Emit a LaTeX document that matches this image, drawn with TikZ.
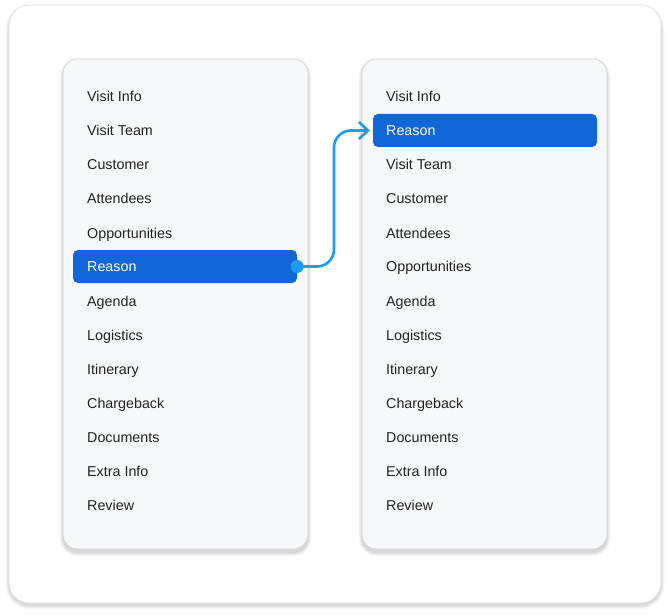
\documentclass[tikz,border=0pt]{standalone}
\usepackage{fontspec}
\setmainfont{Liberation Sans}
\usetikzlibrary{arrows.meta}
\definecolor{panelfill}{HTML}{F7F8FA}
\definecolor{panelline}{HTML}{D4D5D8}
\definecolor{cardline}{HTML}{DEDEDE}
\definecolor{hlblue}{HTML}{1267D8}
\definecolor{linkblue}{HTML}{1C9CF4}
\definecolor{itemtext}{HTML}{222222}
\tikzset{
  card/.style={draw=cardline, line width=0.8pt, fill=white, rounded corners=20pt},
  panel/.style={draw=panelline, line width=0.9pt, fill=panelfill, rounded corners=14pt},
  softshade/.style={fill=black, draw=none, fill opacity=0.018},
  item/.style={anchor=base west, inner sep=0pt, font=\fontsize{14.3}{16}\selectfont, text=itemtext},
  hlitem/.style={item, text=white},
  hlbar/.style={fill=hlblue, rounded corners=5pt, draw=none, minimum width=224pt, minimum height=33pt, inner sep=0pt},
  link/.style={draw=linkblue, line width=2.6pt, rounded corners=17pt, -{Straight Barb[length=9pt,width=17pt,line width=2.6pt]}},
  linkdot/.style={circle, fill=linkblue, minimum size=13pt, inner sep=0pt}
}
\newcommand{\softshadow}[5]{% x1 y1 x2 y2 radius
  \foreach \k in {0.5,1,...,4}{
    \path[softshade, rounded corners={#5pt+\k pt}] ({#1-\k+0.5},{#2-\k+4}) rectangle ({#3+\k-0.5},{#4+\k+3});
  }
}
\begin{document}
\begin{tikzpicture}[x=1pt,y=-1pt]
\useasboundingbox (0,0) rectangle (670,615);
\softshadow{9}{5}{661}{602}{20}
\path[card] (9,5) rectangle (661,603);
\softshadow{63}{59}{308}{549}{14}
\softshadow{362}{59}{607}{549}{14}
\path[panel] (63,59) rectangle (308,549);
\path[panel] (362,59) rectangle (607,549);
% highlight bars
\node[hlbar] (lbar) at (185,266.5) {};
\node[hlbar] (rbar) at (485,130.5) {};
% left items
\foreach \t [count=\i] in {Visit Info,Visit Team,Customer,Attendees,Opportunities,Reason,Agenda,Logistics,Itinerary,Chargeback,Documents,Extra Info,Review}{
  \ifnum\i=6
    \node[hlitem] (L\i) at (87,{97+34*(\i-1)+5}) {\t};
  \else
    \node[item] (L\i) at (87,{97+34*(\i-1)+5}) {\t};
  \fi
}
% right items
\foreach \t [count=\i] in {Visit Info,Reason,Visit Team,Customer,Attendees,Opportunities,Agenda,Logistics,Itinerary,Chargeback,Documents,Extra Info,Review}{
  \ifnum\i=2
    \node[hlitem] (R\i) at (386,{97+34*(\i-1)+5}) {\t};
  \else
    \node[item] (R\i) at (386,{97+34*(\i-1)+5}) {\t};
  \fi
}
% connector
\node[linkdot] (dot) at (lbar.east) {};
\coordinate (bend) at (334,0);
\draw[link] (dot.center) -- (dot.center -| bend) -- (rbar.west -| bend) -- ([xshift=-3pt]rbar.west);
\end{tikzpicture}
\end{document}
